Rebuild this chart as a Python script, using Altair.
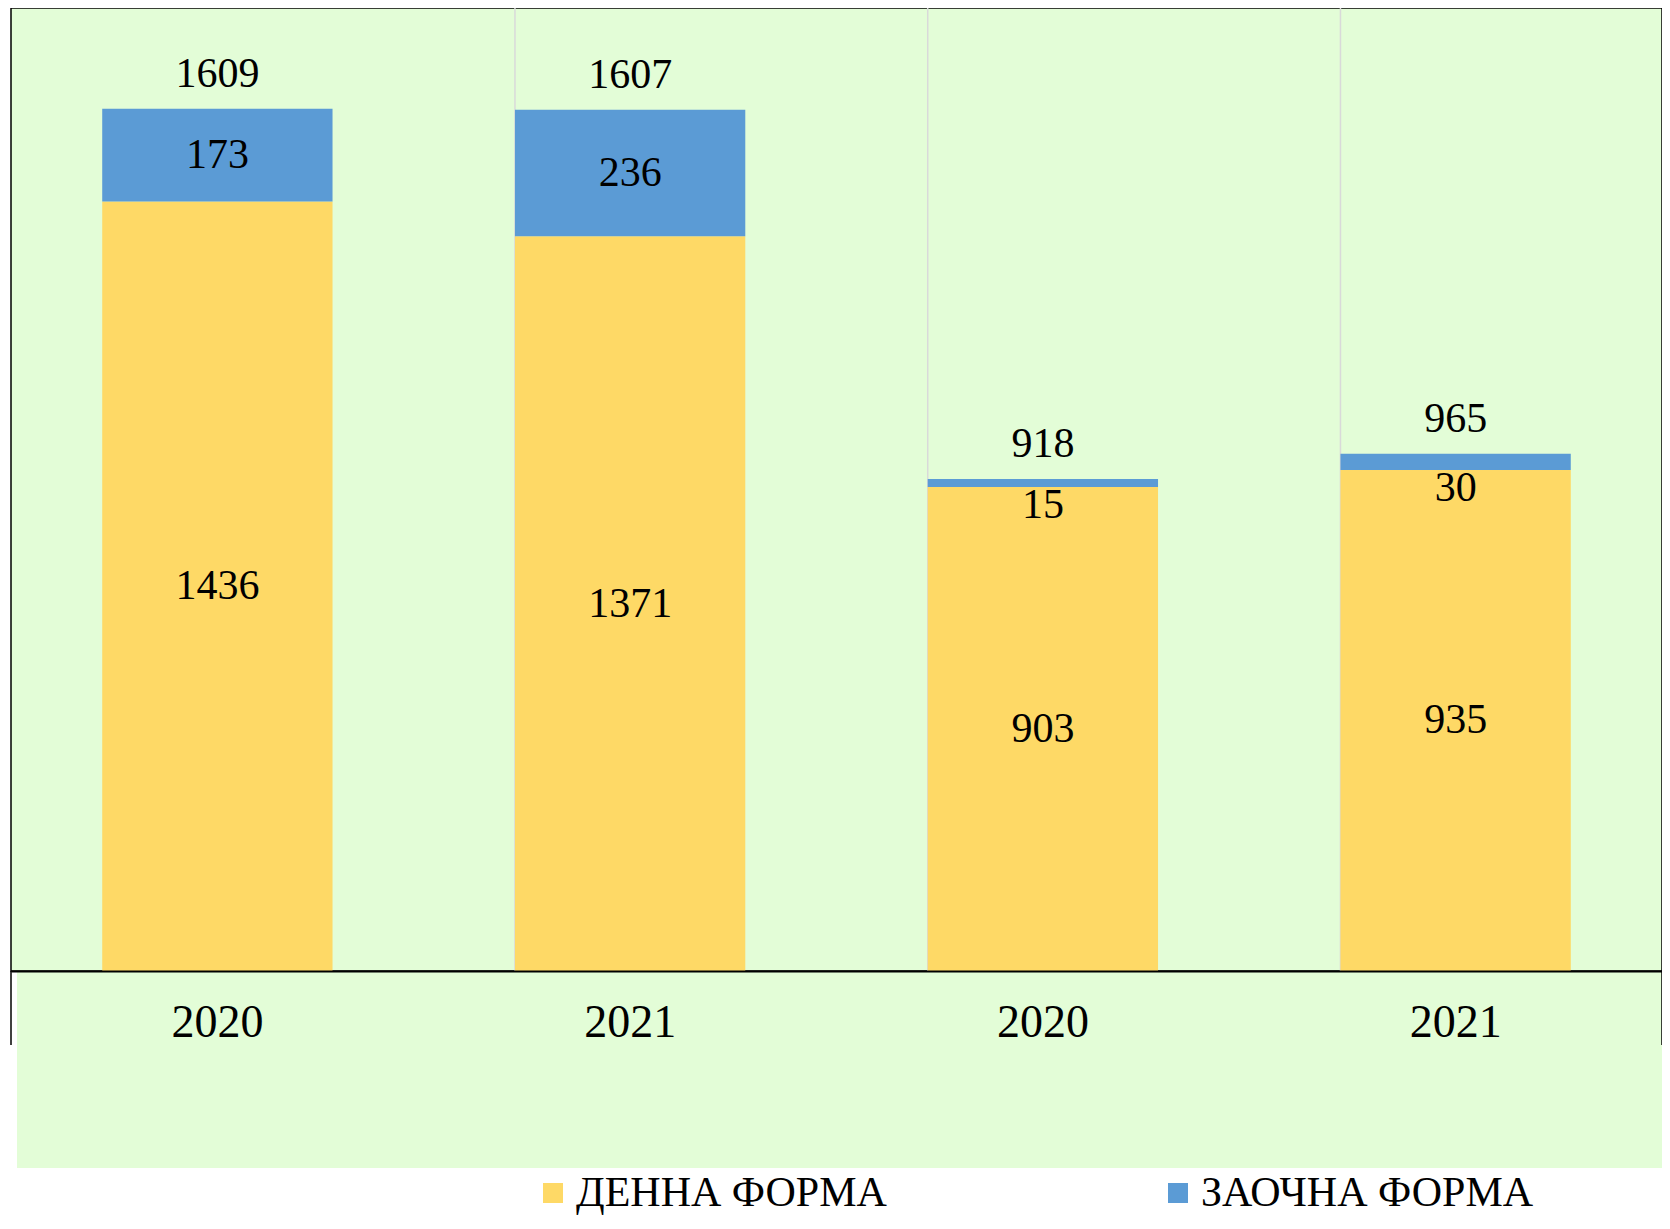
import altair as alt
import pandas as pd

# ---- data ----
years = ["2020", "2021", "2020", "2021"]
series = ["ДЕННА ФОРМА", "ЗАОЧНА ФОРМА"]
denna = [1436, 1371, 903, 935]
zaochna = [173, 236, 15, 30]
colors = ["#FED966", "#5B9BD5"]

keys = [f"{i}|{y}" for i, y in enumerate(years)]
rows = []
for k, d, z in zip(keys, denna, zaochna):
    rows.append({"key": k, "series": series[0], "value": d, "o": 0})
    rows.append({"key": k, "series": series[1], "value": z, "o": 1})
df = pd.DataFrame(rows)
grid_df = pd.DataFrame({"key": keys[1:]})
one = pd.DataFrame({"k": [0]})

W, H = 1651, 963
FONT = "Liberation Serif"
GREEN = "#E3FDD7"

xscale = alt.Scale(paddingInner=0.442, paddingOuter=0.221)
xaxis = alt.Axis(
    title=None,
    labelExpr="split(datum.label, '|')[1]",
    labelFontSize=46,
    labelFont=FONT,
    labelColor="black",
    labelAngle=0,
    ticks=False,
    domainColor="black",
    domainWidth=2,
    labelPadding=29,
    grid=False,
    zindex=1,
)


def X(**kw):
    return alt.X("key:N", sort=keys, scale=xscale, axis=xaxis, **kw)


yscale = alt.Scale(domain=[0, 1797], nice=False, zero=True)

base = alt.Chart(df)

below = alt.Chart(one).mark_rect(color=GREEN).encode(
    x=alt.value(6), x2=alt.value(W), y=alt.value(H), y2=alt.value(H + 197)
)

grid = alt.Chart(grid_df).mark_rule(color="#D9D9D9", strokeWidth=1.5).encode(
    x=X(bandPosition=0)
)

bars = base.mark_bar().encode(
    x=X(),
    y=alt.Y("value:Q", stack="zero", scale=yscale, axis=None),
    color=alt.Color(
        "series:N",
        scale=alt.Scale(domain=series, range=colors),
        legend=alt.Legend(
            title=None,
            orient="none",
            legendX=521,
            legendY=1164,
            direction="horizontal",
            symbolType="square",
            symbolSize=400,
            symbolStrokeWidth=0,
            labelFont=FONT,
            labelFontSize=42,
            labelColor="black",
            labelOffset=2,
            columnPadding=270,
            labelLimit=0,
        ),
    ),
    order=alt.Order("o:Q"),
)

stacked = base.transform_stack(
    stack="value", groupby=["key"], as_=["y0", "y1"], sort=[alt.SortField("o")]
).transform_calculate(mid="(datum.y0 + datum.y1) / 2")

seg_big = stacked.transform_filter("datum.value >= 100").mark_text(
    font=FONT, fontSize=42, color="black", baseline="middle"
).encode(x=X(), y=alt.Y("mid:Q", scale=yscale, axis=None), text=alt.Text("value:Q", format="d"))

seg_small = stacked.transform_filter("datum.value < 100").mark_text(
    font=FONT, fontSize=42, color="black", baseline="top", dy=-2
).encode(x=X(), y=alt.Y("y0:Q", scale=yscale, axis=None), text=alt.Text("value:Q", format="d"))

totals = base.transform_aggregate(total="sum(value)", groupby=["key"]).mark_text(
    font=FONT, fontSize=42, color="black", baseline="alphabetic", dy=-22
).encode(x=X(), y=alt.Y("total:Q", scale=yscale, axis=None), text=alt.Text("total:Q", format="d"))

frame_l = alt.Chart(one).mark_rule(color="black", strokeWidth=1.5).encode(
    x=alt.value(0), y=alt.value(H), y2=alt.value(H + 74)
)
frame_r = alt.Chart(one).mark_rule(color="black", strokeWidth=1.5).encode(
    x=alt.value(W), y=alt.value(H), y2=alt.value(H + 74)
)

chart = (
    alt.layer(below, grid, bars, seg_big, seg_small, totals, frame_l, frame_r)
    .properties(
        width=W,
        height=H,
        padding={"left": 3, "top": 0, "right": 0, "bottom": 250},
        autosize=alt.AutoSizeParams(type="none"),
        background="white",
    )
    .configure_view(fill=GREEN, stroke="black", strokeWidth=1.5)
)

chart.save("out.html", embed_options={"renderer": "svg", "actions": False})
